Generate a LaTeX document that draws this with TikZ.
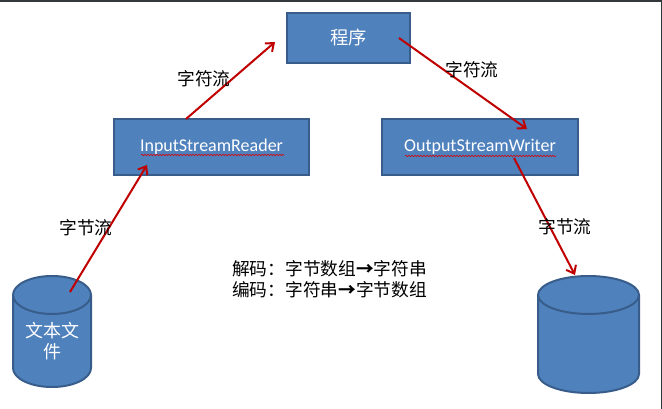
\documentclass[tikz,border=0pt]{standalone}
\usepackage{fontspec}
\setmainfont{Carlito}
\newfontfamily\cjk{Noto Sans CJK SC}
\usetikzlibrary{arrows.meta}
\usetikzlibrary{shapes.geometric}
\usetikzlibrary{decorations.pathmorphing}
\definecolor{boxblue}{HTML}{4F81BD}
\definecolor{boxedge}{HTML}{385D8A}
\definecolor{flowred}{HTML}{C00000}
\definecolor{frameline}{HTML}{33383C}
\tikzset{
	boxnode/.style={rectangle,draw=boxedge,fill=boxblue,line width=2pt,text=white,outer sep=0pt,inner sep=0pt},
	drum/.style={cylinder,shape border rotate=90,draw=boxedge,fill=boxblue,line width=2pt,text=white,outer sep=0pt,inner sep=0pt,align=center,anchor=bottom},
	flow/.style={draw=flowred,line width=2pt,-{Straight Barb[length=7pt,width=11pt,line width=2pt]}},
	flowlabel/.style={font=\cjk\fontsize{17.7}{21}\selectfont,inner sep=0pt},
	squiggle/.style={draw=red!85!black,line width=0.6pt,decorate,decoration={snake,amplitude=0.7pt,segment length=3pt}}
}

\begin{document}
\begin{tikzpicture}[x=1pt,y=-1pt]
	\useasboundingbox (0,0) rectangle (662,409);
	\fill[white] (0,0) rectangle (662,409);
	\fill[frameline] (0,0) rectangle (662,2);
	\fill[frameline] (661,0) rectangle (662,409);

	\node[boxnode,minimum width=123pt,minimum height=50pt,font=\cjk\fontsize{18.3}{21}\selectfont] (prog) at (348.5,38) {程序};
	\node[boxnode,minimum width=195pt,minimum height=56pt,font=\fontsize{18}{20}\selectfont] (reader) at (211.5,147) {InputStreamReader};
	\node[boxnode,minimum width=196pt,minimum height=56pt,font=\fontsize{18}{20}\selectfont] (writer) at (480,147) {OutputStreamWriter};
	\node[drum,text width=78pt,minimum height=111pt,aspect=0.487,font=\cjk\fontsize{18}{21}\selectfont] (textfile) at (52,387) {文本文\\件};
	\node[drum,text width=101pt,minimum height=117pt,aspect=0.376] (outfile) at (588.5,393) {\strut};

	\coordinate (fileout) at (70,292);
	\coordinate (readerin) at (147,165);
	\coordinate (readerout) at (186,119);
	\coordinate (progin) at (275,42);
	\coordinate (progout) at (399,38);
	\coordinate (writerin) at (527,129);
	\coordinate (writerout) at (514,158);
	\coordinate (outfilein) at (575,275);

	\coordinate (readerwaveA) at (141,155);
	\coordinate (readerwaveB) at (284,155);
	\coordinate (writerwaveA) at (405,156);
	\coordinate (writerwaveB) at (556,156);
	\draw[squiggle] (readerwaveA) -- (readerwaveB);
	\draw[squiggle] (writerwaveA) -- (writerwaveB);

	\draw[flow] (fileout) -- (readerin);
	\draw[flow] (readerout) -- (progin);
	\draw[flow] (progout) -- (writerin);
	\draw[flow] (writerout) -- (outfilein);

	\node[flowlabel] (labelA) at (86,228) {字节流};
	\node[flowlabel] (labelB) at (204,79) {字符流};
	\node[flowlabel] (labelC) at (472,70) {字符流};
	\node[flowlabel] (labelD) at (565,227) {字节流};
	\node[flowlabel,align=left,anchor=north west] (codec) at (232,260.5) {解码：字节数组\textbf{→}字符串\\编码：字符串\textbf{→}字节数组};
\end{tikzpicture}
\end{document}
